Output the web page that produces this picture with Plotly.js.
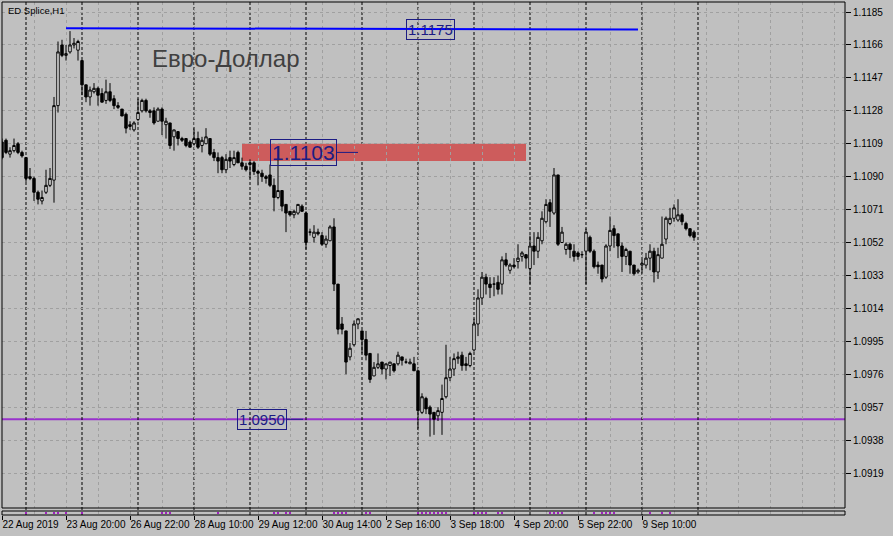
<!DOCTYPE html>
<html>
<head>
<meta charset="utf-8">
<script src="https://cdn.plot.ly/plotly-3.0.1.min.js"></script>
<style>html,body{margin:0;padding:0;background:#c0c0c0;}#chart{width:893px;height:536px;}</style>
</head>
<body>
<div id="chart"></div>
<script>
// ---- Data (EURUSD "ED Splice", H1) ----
const open  = [1.1110,1.1111,1.1103,1.1105,1.1109,1.1104,1.1101,1.1090,1.1089,1.1081,1.1076,1.1081,1.1085,1.1088,1.1131,1.1166,1.1160,1.1162,1.1166,1.1163,
1.1157,1.1143,1.1136,1.1139,1.1141,1.1138,1.1134,1.1139,1.1135,1.1131,1.1129,1.1126,1.1120,1.1117,1.1123,1.1128,1.1134,1.1128,1.1128,1.1122,
1.1129,1.1120,1.1121,1.1113,1.1116,1.1112,1.1112,1.1110,1.1109,1.1112,1.1108,1.1109,1.1112,1.1104,1.1101,1.1101,1.1094,1.1101,1.1097,1.1104,
1.1098,1.1096,1.1098,1.1098,1.1093,1.1092,1.1090,1.1091,1.1085,1.1078,1.1082,1.1074,1.1070,1.1068,1.1069,1.1073,1.1069,1.1058,1.1055,1.1058,
1.1056,1.1051,1.1053,1.1061,1.1028,1.1005,1.1001,1.0986,1.0993,1.1005,1.1001,1.0996,1.0988,1.0975,1.0980,1.0983,1.0979,1.0981,1.0982,1.0982,
1.0986,1.0983,1.0982,1.0982,1.0978,1.0954,1.0962,1.0957,1.0954,1.0952,1.0954,1.0963,1.0974,1.0979,1.0985,1.0987,1.0982,1.0981,1.0990,1.1005,
1.1020,1.1032,1.1028,1.1028,1.1029,1.1028,1.1042,1.1036,1.1039,1.1041,1.1044,1.1045,1.1037,1.1050,1.1047,1.1053,1.1064,1.1075,1.1069,1.1091,
1.1052,1.1048,1.1051,1.1047,1.1046,1.1045,1.1047,1.1055,1.1047,1.1039,1.1039,1.1032,1.1050,1.1060,1.1057,1.1050,1.1044,1.1047,1.1039,1.1035,
1.1039,1.1039,1.1043,1.1047,1.1035,1.1043,1.1054,1.1063,1.1066,1.1065,1.1068,1.1063,1.1060,1.1058];
const high  = [1.1112,1.1112,1.1107,1.1112,1.1110,1.1105,1.1101,1.1095,1.1090,1.1082,1.1082,1.1094,1.1095,1.1136,1.1168,1.1169,1.1166,1.1174,1.1170,1.1169,
1.1157,1.1143,1.1142,1.1144,1.1142,1.1141,1.1146,1.1144,1.1137,1.1133,1.1129,1.1127,1.1122,1.1122,1.1135,1.1135,1.1135,1.1129,1.1130,1.1130,
1.1130,1.1124,1.1121,1.1117,1.1116,1.1113,1.1112,1.1111,1.1118,1.1116,1.1113,1.1118,1.1112,1.1106,1.1104,1.1102,1.1103,1.1105,1.1105,1.1105,
1.1101,1.1098,1.1100,1.1099,1.1094,1.1094,1.1091,1.1097,1.1089,1.1107,1.1082,1.1074,1.1070,1.1071,1.1074,1.1074,1.1070,1.1060,1.1062,1.1060,
1.1058,1.1056,1.1062,1.1066,1.1028,1.1009,1.1001,1.0994,1.1007,1.1008,1.1001,1.1001,1.0988,1.0983,1.0988,1.0983,1.0982,1.0983,1.0982,1.0989,
1.0986,1.0985,1.0985,1.0986,1.0978,1.0965,1.0963,1.0958,1.0954,1.0957,1.0970,1.0993,1.0986,1.0988,1.0989,1.0989,1.0986,1.0989,1.1008,1.1025,
1.1035,1.1034,1.1032,1.1032,1.1033,1.1044,1.1046,1.1040,1.1043,1.1051,1.1047,1.1045,1.1056,1.1058,1.1058,1.1070,1.1077,1.1077,1.1095,1.1091,
1.1061,1.1052,1.1052,1.1051,1.1047,1.1047,1.1060,1.1056,1.1048,1.1041,1.1039,1.1051,1.1067,1.1062,1.1057,1.1052,1.1049,1.1047,1.1039,1.1037,
1.1042,1.1046,1.1051,1.1049,1.1049,1.1067,1.1067,1.1072,1.1074,1.1077,1.1069,1.1064,1.1060,1.1059];
const low   = [1.1100,1.1103,1.1101,1.1104,1.1103,1.1101,1.1087,1.1088,1.1076,1.1074,1.1074,1.1080,1.1084,1.1075,1.1127,1.1159,1.1157,1.1161,1.1164,1.1157,
1.1137,1.1133,1.1131,1.1138,1.1131,1.1133,1.1132,1.1133,1.1129,1.1129,1.1125,1.1115,1.1117,1.1116,1.1122,1.1127,1.1127,1.1124,1.1120,1.1122,
1.1114,1.1112,1.1106,1.1105,1.1108,1.1110,1.1107,1.1107,1.1108,1.1106,1.1104,1.1109,1.1102,1.1099,1.1092,1.1092,1.1092,1.1095,1.1096,1.1098,
1.1094,1.1093,1.1089,1.1091,1.1085,1.1087,1.1086,1.1084,1.1070,1.1077,1.1070,1.1058,1.1067,1.1066,1.1068,1.1070,1.1048,1.1056,1.1052,1.1056,
1.1050,1.1049,1.1053,1.1024,1.0999,1.0999,1.0976,1.0984,1.0992,1.1002,1.0988,1.0984,1.0971,1.0975,1.0979,1.0976,1.0973,1.0975,1.0977,1.0981,
1.0981,1.0982,1.0982,1.0978,1.0944,1.0953,1.0953,1.0940,1.0941,1.0949,1.0941,1.0962,1.0972,1.0975,1.0982,1.0978,1.0978,1.0980,1.0989,1.0998,
1.1016,1.1022,1.1020,1.1021,1.1022,1.1022,1.1038,1.1034,1.1037,1.1037,1.1041,1.1037,1.1028,1.1039,1.1043,1.1051,1.1063,1.1061,1.1068,1.1050,
1.1052,1.1045,1.1043,1.1041,1.1042,1.1043,1.1028,1.1046,1.1037,1.1034,1.1029,1.1031,1.1047,1.1049,1.1043,1.1035,1.1039,1.1034,1.1033,1.1034,
1.1034,1.1037,1.1036,1.1029,1.1031,1.1043,1.1051,1.1062,1.1064,1.1064,1.1062,1.1059,1.1055,1.1053];
const close = [1.1101,1.1104,1.1105,1.1108,1.1104,1.1102,1.1089,1.1089,1.1081,1.1077,1.1078,1.1085,1.1089,1.1131,1.1162,1.1160,1.1161,1.1166,1.1167,1.1168,
1.1143,1.1136,1.1140,1.1141,1.1137,1.1133,1.1139,1.1134,1.1131,1.1130,1.1125,1.1118,1.1119,1.1121,1.1127,1.1134,1.1128,1.1127,1.1121,1.1129,
1.1122,1.1122,1.1108,1.1117,1.1112,1.1111,1.1108,1.1107,1.1112,1.1107,1.1111,1.1113,1.1103,1.1101,1.1099,1.1094,1.1100,1.1099,1.1101,1.1098,
1.1096,1.1094,1.1097,1.1093,1.1092,1.1090,1.1089,1.1085,1.1078,1.1082,1.1073,1.1069,1.1068,1.1070,1.1074,1.1070,1.1052,1.1058,1.1058,1.1057,
1.1051,1.1054,1.1061,1.1028,1.1002,1.1002,1.0983,1.0991,1.1005,1.1008,1.0996,1.0987,1.0973,1.0980,1.0982,1.0979,1.0982,1.0983,1.0978,1.0987,
1.0984,1.0983,1.0983,1.0978,1.0955,1.0963,1.0956,1.0953,1.0950,1.0955,1.0962,1.0974,1.0979,1.0985,1.0986,1.0981,1.0981,1.0988,1.1005,1.1020,
1.1032,1.1028,1.1026,1.1028,1.1025,1.1042,1.1039,1.1039,1.1038,1.1043,1.1046,1.1043,1.1050,1.1047,1.1055,1.1066,1.1074,1.1070,1.1091,1.1051,
1.1058,1.1051,1.1048,1.1044,1.1044,1.1045,1.1058,1.1047,1.1038,1.1038,1.1031,1.1050,1.1059,1.1056,1.1050,1.1044,1.1048,1.1039,1.1034,1.1036,
1.1040,1.1043,1.1047,1.1035,1.1045,1.1051,1.1066,1.1066,1.1072,1.1068,1.1064,1.1060,1.1056,1.1055];

const tickBars   = [0,16,32,48,64,80,96,112,128,144,160];
const tickLabels = ["22 Aug 2019","23 Aug 20:00","26 Aug 22:00","28 Aug 10:00","29 Aug 12:00","30 Aug 14:00","2 Sep 16:00","3 Sep 18:00","4 Sep 20:00","5 Sep 22:00","9 Sep 10:00"];
const priceTicks = [1.0919,1.0938,1.0957,1.0976,1.0995,1.1014,1.1033,1.1052,1.1071,1.1090,1.1109,1.1128,1.1147,1.1166,1.1185];
const separatorBars = [6,20,34,48,62,76,90,104,118,132,146,160,174];

const trendBars   = [16,159];
const trendPrices = [1.11757,1.11749];
const supportLevel = 1.0950;
const zoneBars   = [60,131];
const zonePrices = [1.1099,1.1109];
const labelTexts  = ["1.1175","1.1103","1.0950"];
const labelBars   = [107,89,75.25];
const labelPrices = [1.1175,1.1104,1.0950];
const signalBars = [6,11,13,14,16,20,40,41,42,54,68,69,71,72,83,84,85,86,91,92,104,105,106,107,108,109,110,111,118,119,120,121,124,125,137,138,139,140,148,150,151,152,153,162,165,167];

const bars = open.map((_, i) => i);
const navy = '#1c1c84';
const fontF = 'Liberation Sans, Arial, sans-serif';

const mainBottom = 7/513, stripTop = 4/513;

const traces = [
  {type:'scatter', mode:'lines', x:trendBars, y:trendPrices, xaxis:'x', yaxis:'y',
   line:{color:'#0000ff', width:2}, hoverinfo:'skip', showlegend:false},
  {type:'candlestick', x:bars, open:open, high:high, low:low, close:close, xaxis:'x', yaxis:'y',
   increasing:{line:{color:'#000000', width:1}, fillcolor:'#ffffff'},
   decreasing:{line:{color:'#000000', width:1}, fillcolor:'#000000'},
   whiskerwidth:0, showlegend:false, hoverinfo:'skip'},
  {type:'scatter', mode:'markers', x:signalBars, y:signalBars.map(() => 0.5), xaxis:'x', yaxis:'y2',
   marker:{symbol:'square', size:2, color:'#a020c0'}, hoverinfo:'skip', showlegend:false}
];

const shapes = [
  {type:'rect', xref:'x', yref:'y', x0:zoneBars[0], x1:zoneBars[1], y0:zonePrices[0], y1:zonePrices[1],
   fillcolor:'#cd5c5c', line:{width:0}, layer:'below'},
  {type:'line', xref:'paper', yref:'y', x0:0, x1:1, y0:supportLevel, y1:supportLevel,
   line:{color:'#9932cc', width:2}, layer:'between'}
];
separatorBars.forEach(b => shapes.push({type:'line', xref:'x', yref:'paper', x0:b, x1:b, y0:0, y1:1,
  line:{color:'#000000', width:1, dash:'3px,2px'}, layer:'between'}));
shapes.push({type:'rect', xref:'paper', yref:'paper', x0:0, x1:1, y0:mainBottom, y1:1, line:{color:'#000', width:1}, fillcolor:'rgba(0,0,0,0)', layer:'above'});
shapes.push({type:'rect', xref:'paper', yref:'paper', x0:0, x1:1, y0:0, y1:stripTop, line:{color:'#000', width:1}, fillcolor:'rgba(0,0,0,0)', layer:'above'});

const annotations = [
  {xref:'paper', yref:'paper', x:4/843, y:505/513, xanchor:'left', yanchor:'middle', text:'ED Splice,H1',
   showarrow:false, font:{family:fontF, size:9.5, color:'#000'}},
  {xref:'paper', yref:'paper', x:148/843, y:457/513, xanchor:'left', yanchor:'middle', text:'Евро-Доллар',
   showarrow:false, font:{family:fontF, size:24, color:'#404040'}},
  {xref:'x', yref:'y', x:labelBars[0], y:labelPrices[0], text:labelTexts[0], showarrow:false,
   font:{family:fontF, size:15, color:navy}, bordercolor:navy, borderwidth:1, borderpad:1},
  {xref:'x', yref:'y', x:labelBars[1], y:labelPrices[1], text:labelTexts[1], showarrow:true, arrowhead:0,
   arrowwidth:1, arrowcolor:navy, ax:-55, ay:0, standoff:0,
   font:{family:fontF, size:21, color:navy}, bordercolor:navy, borderwidth:1, borderpad:1},
  {xref:'x', yref:'y', x:labelBars[2], y:labelPrices[2], text:labelTexts[2], showarrow:true, arrowhead:0,
   arrowwidth:1, arrowcolor:navy, ax:-41, ay:0, standoff:0,
   font:{family:fontF, size:15, color:navy}, bordercolor:navy, borderwidth:1, borderpad:1}
];

const gridStyle = {gridcolor:'#a0a0a0', griddash:'3px,3px', gridwidth:1};

const layout = {
  width:893, height:536,
  margin:{l:2, r:48, t:2, b:21, pad:0},
  paper_bgcolor:'#c0c0c0', plot_bgcolor:'#c0c0c0',
  showlegend:false, hovermode:false,
  boxgap:0.15,
  font:{family:fontF, size:10, color:'#000'},
  xaxis:Object.assign({
    anchor:'y2', domain:[0,1], range:[0,210.75], type:'linear',
    tickmode:'array', tickvals:tickBars, ticktext:tickLabels, tickangle:0,
    ticks:'outside', ticklen:4, tickcolor:'#000', tickwidth:1,
    ticklabelposition:'outside right', automargin:false,
    tickfont:{family:fontF, size:10, color:'#000'},
    showgrid:true, zeroline:false, showline:false,
    rangeslider:{visible:false},
    minor:{tick0:0, dtick:8, showgrid:true, gridcolor:'#a0a0a0', griddash:'3px,3px', ticks:''}
  }, gridStyle),
  yaxis:Object.assign({
    anchor:'x', side:'right', domain:[mainBottom,1], range:[1.08988,1.11908],
    tickmode:'array', tickvals:priceTicks, tickformat:'.4f', automargin:false,
    ticks:'outside', ticklen:5, tickcolor:'#000', tickwidth:1,
    tickfont:{family:fontF, size:10, color:'#000'},
    showgrid:true, zeroline:false, showline:false
  }, gridStyle),
  yaxis2:{anchor:'x', domain:[0,stripTop], range:[0,1], showgrid:false, zeroline:false,
    showticklabels:false, ticks:'', showline:false},
  shapes:shapes,
  annotations:annotations
};

Plotly.newPlot('chart', traces, layout, {staticPlot:true, displayModeBar:false});
</script>
</body>
</html>
